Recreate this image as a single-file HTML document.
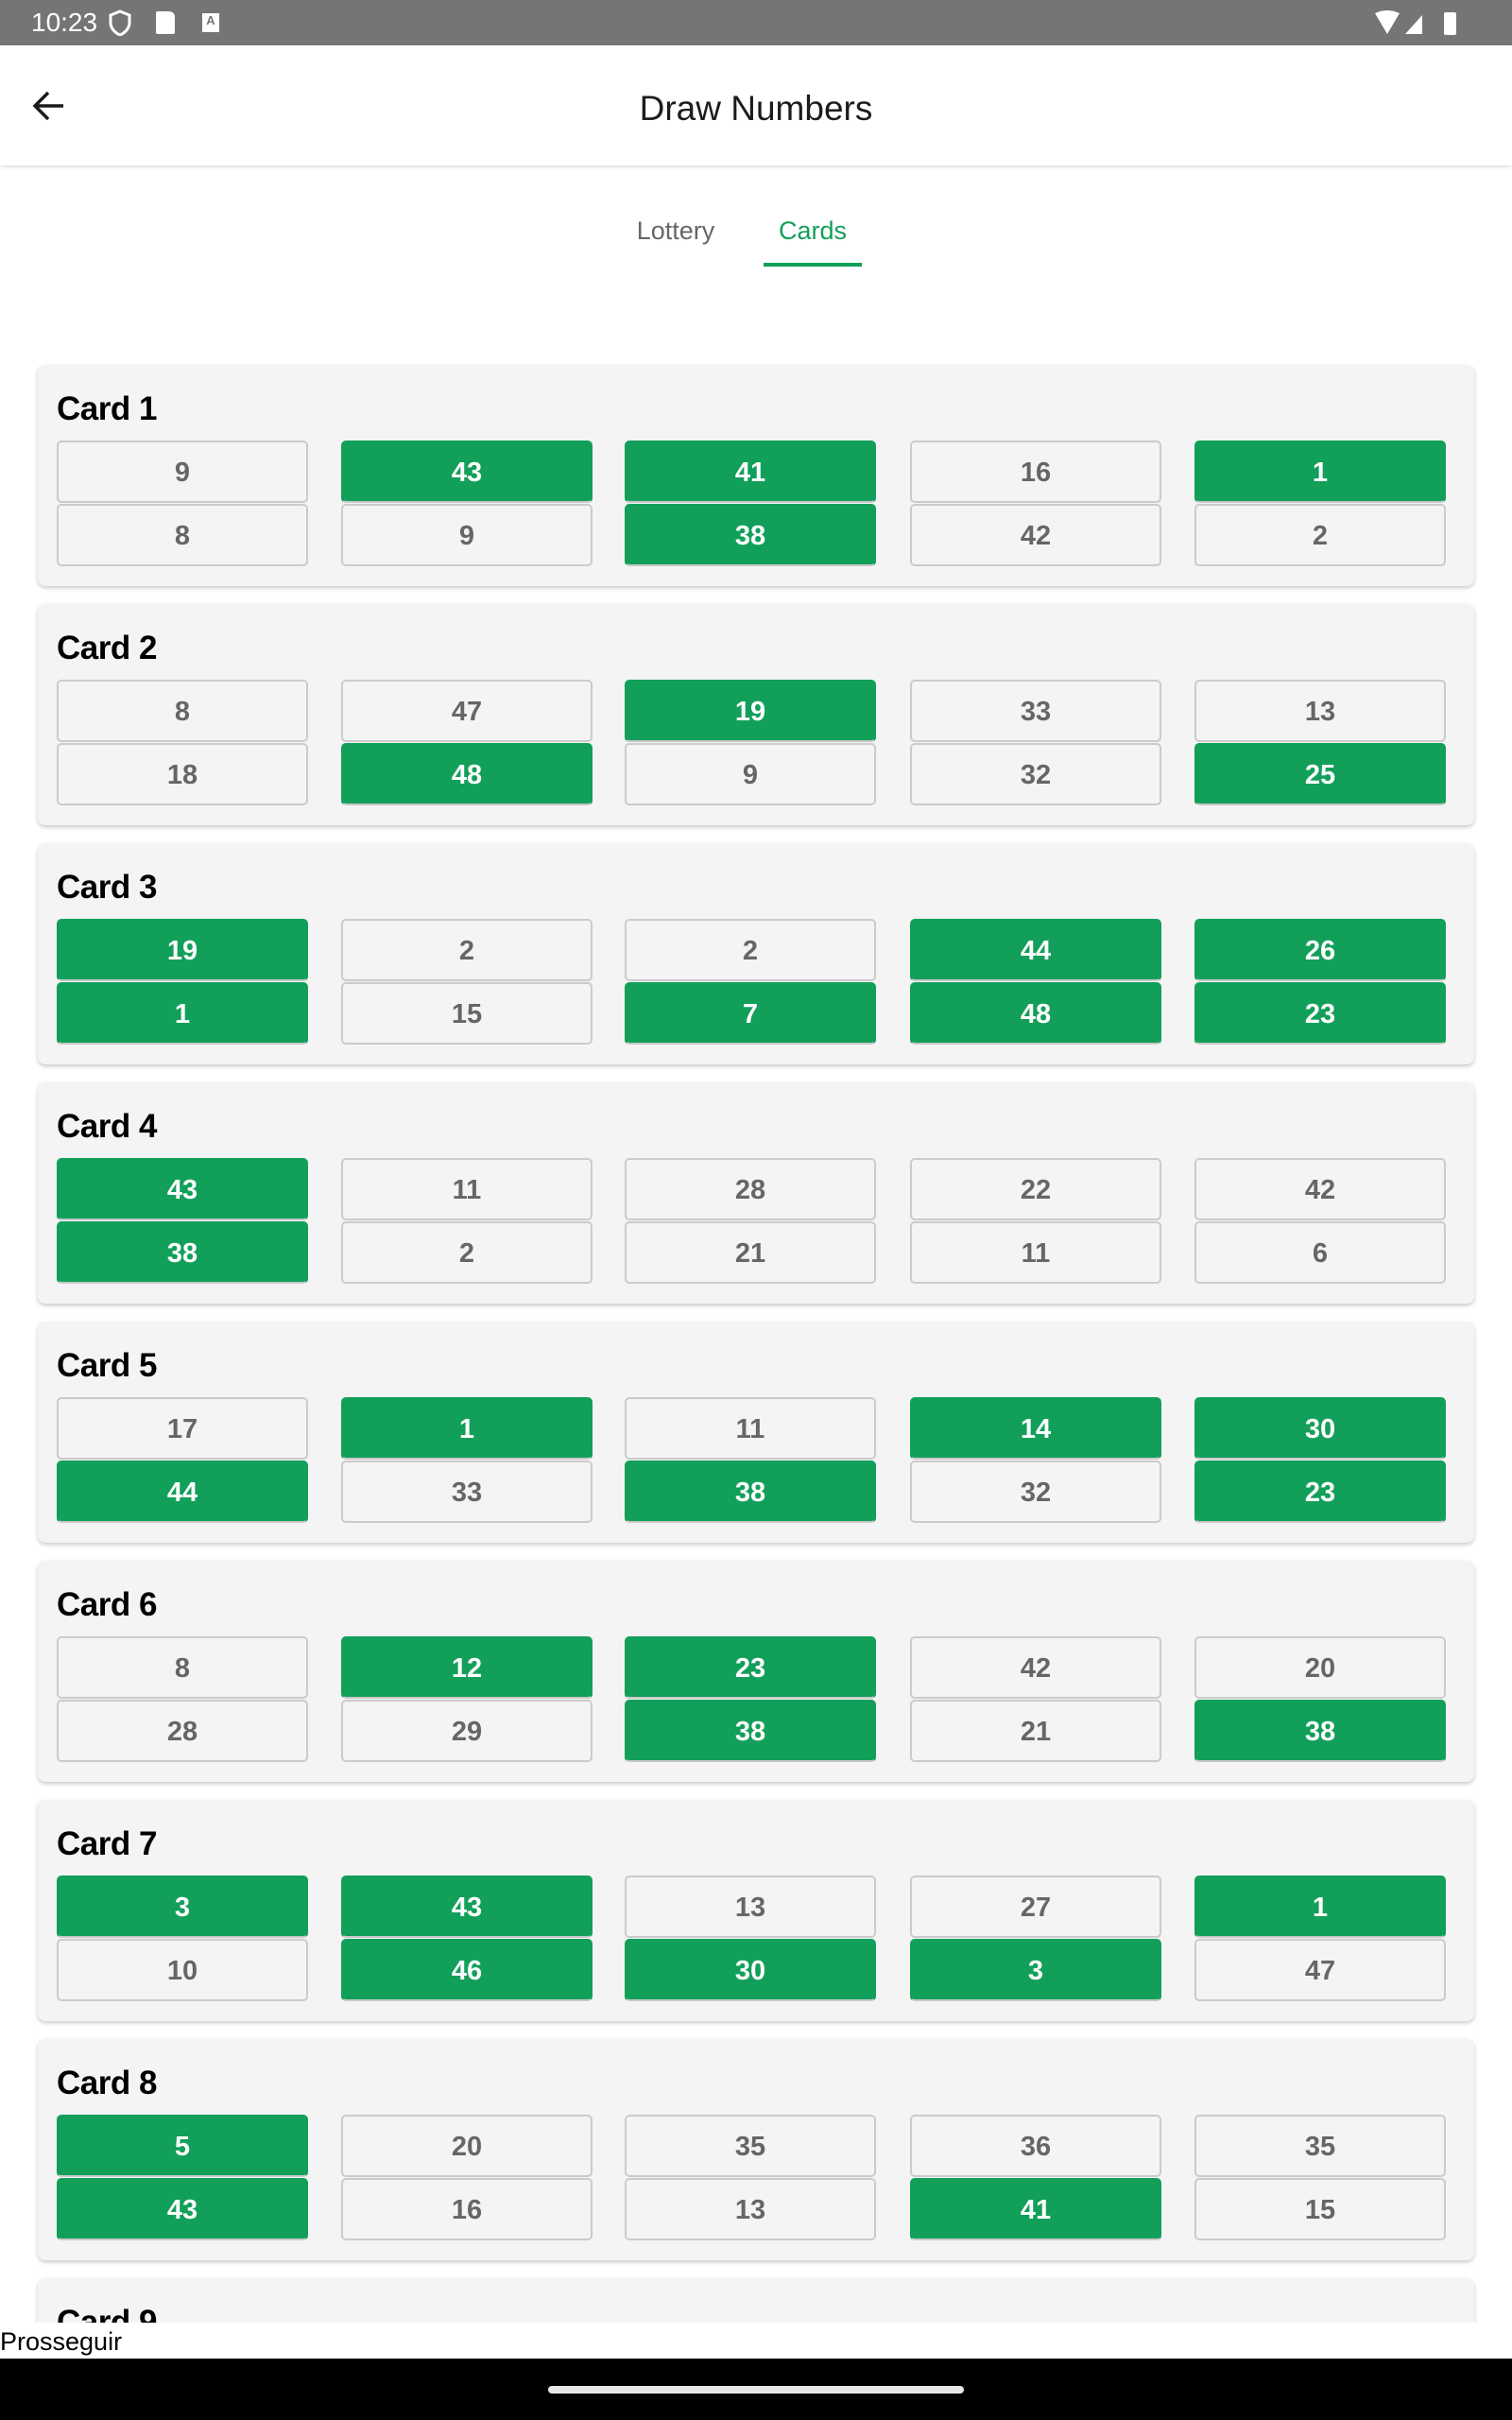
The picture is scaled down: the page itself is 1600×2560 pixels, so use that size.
<!DOCTYPE html>
<html><head><meta charset="utf-8">
<style>
*{margin:0;padding:0;box-sizing:border-box}
body{width:1600px;height:2560px;position:relative;overflow:hidden;background:#fff;font-family:"Liberation Sans",Roboto,sans-serif}
.abs{position:absolute}
#status{left:0;top:0;width:1600px;height:48px;background:#757575;color:#fff}
#appbar{left:0;top:48px;width:1600px;height:127px;background:#fff;box-shadow:0 2px 4px rgba(0,0,0,0.12);z-index:2}
.card{position:absolute;left:40px;width:1520px;height:234px;background:#f4f4f4;border-radius:8px;box-shadow:0 2px 4px rgba(0,0,0,0.22)}
.card-title{position:absolute;left:20px;top:27px;font-size:35px;font-weight:bold;color:#000;letter-spacing:-0.5px}
.cell{position:absolute;width:266px;height:66px;border:2px solid #cbcbcb;border-radius:5px;background:#f4f4f4;color:#666;font-size:29px;font-weight:bold;display:flex;align-items:center;justify-content:center;padding-top:2px}
.cell.hit{background:#129f5a;border-color:#129f5a;color:#fff;border-bottom-color:#c8c8c8}
</style></head><body>
<div id="status" class="abs">
  <div class="abs" style="left:33px;top:8px;font-size:28px;">10:23</div>
  <svg class="abs" style="left:114px;top:10px" width="26" height="28"><path d="M13 2 L23 6 V14 C23 20 18 25 13 27 C8 25 3 20 3 14 V6 Z" fill="none" stroke="#fff" stroke-width="3"/></svg>
  <div class="abs" style="left:165px;top:12px;width:20px;height:24px;background:#fff;border-radius:2px 6px 2px 2px"></div>
  <div class="abs" style="left:214px;top:14px;width:18px;height:20px;background:#fff;color:#757575;font-size:13px;font-weight:bold;text-align:center">A</div>
  <svg class="abs" style="left:1455px;top:10px" width="100" height="30"><path d="M0 4 Q13 -2 26 4 L13 26 Z" fill="#fff"/><path d="M32 26 L50 6 V26 Z" fill="#fff"/><rect x="73" y="3" width="13" height="24" rx="2" fill="#fff"/></svg>
</div>
<div id="appbar" class="abs">
  <svg class="abs" style="left:34px;top:47px" width="36" height="34"><path d="M33 17 H4 M17 3 L3 17 L17 31" fill="none" stroke="#1a1a1a" stroke-width="3.5"/></svg>
  <div class="abs" style="left:0;width:1600px;top:46px;text-align:center;font-size:37px;color:#1c1c1c">Draw Numbers</div>
</div>
<div class="abs" style="left:630px;top:229px;width:170px;text-align:center;font-size:27px;color:#666">Lottery</div>
<div class="abs" style="left:808px;top:229px;width:104px;text-align:center;font-size:27px;color:#129f5a">Cards</div>
<div class="abs" style="left:808px;top:278px;width:104px;height:4px;background:#129f5a"></div>
<div id="list" class="abs" style="left:0;top:0;width:1600px;height:2457px;overflow:hidden"></div>
<div class="abs" style="left:0;top:2457px;width:1600px;height:38px;background:#fff">
  <div class="abs" style="left:0;top:5px;font-size:27px;color:#000">Prosseguir</div>
</div>
<div class="abs" style="left:0;top:2495px;width:1600px;height:65px;background:#000">
  <div class="abs" style="left:580px;top:29px;width:440px;height:8px;border-radius:4px;background:#e8e8e8"></div>
</div>
<script>
const cardTop = [[9,43,41,16,1],[8,47,19,33,13],[19,2,2,44,26],[43,11,28,22,42],[17,1,11,14,30],[8,12,23,42,20],[3,43,13,27,1],[5,20,35,36,35]];
const cardBottom = [[8,9,38,42,2],[18,48,9,32,25],[1,15,7,48,23],[38,2,21,11,6],[44,33,38,32,23],[28,29,38,21,38],[10,46,30,3,47],[43,16,13,41,15]];
const topHits = ["01101","00100","10011","10000","01011","01100","11001","10000"];
const bottomHits = ["00100","01001","10111","10000","10101","00101","01110","10010"];
const list = document.getElementById('list');
const colX = [20,321,621,923,1224];
for (let c = 0; c < 9; c++) {
  const card = document.createElement('div');
  card.className = 'card';
  card.style.top = (386 + c * 253) + 'px';
  
  
  const t = document.createElement('div');
  t.className = 'card-title';
  t.textContent = 'Card ' + (c + 1);
  
  
  card.appendChild(t);
  if (c < cardTop.length) {
    for (let r = 0; r < 2; r++) {
      const vals = r ? cardBottom[c] : cardTop[c];
      const hits = r ? bottomHits[c] : topHits[c];
      for (let k = 0; k < 5; k++) {
        const cell = document.createElement('div');
        cell.className = 'cell' + (hits[k] === '1' ? ' hit' : '');
        cell.style.left = colX[k] + 'px';
        cell.style.top = (80 + r * 67) + 'px';
        cell.textContent = vals[k];
        
        
        card.appendChild(cell);
      }
    }
  }
  list.appendChild(card);
}
</script>
</body></html>
